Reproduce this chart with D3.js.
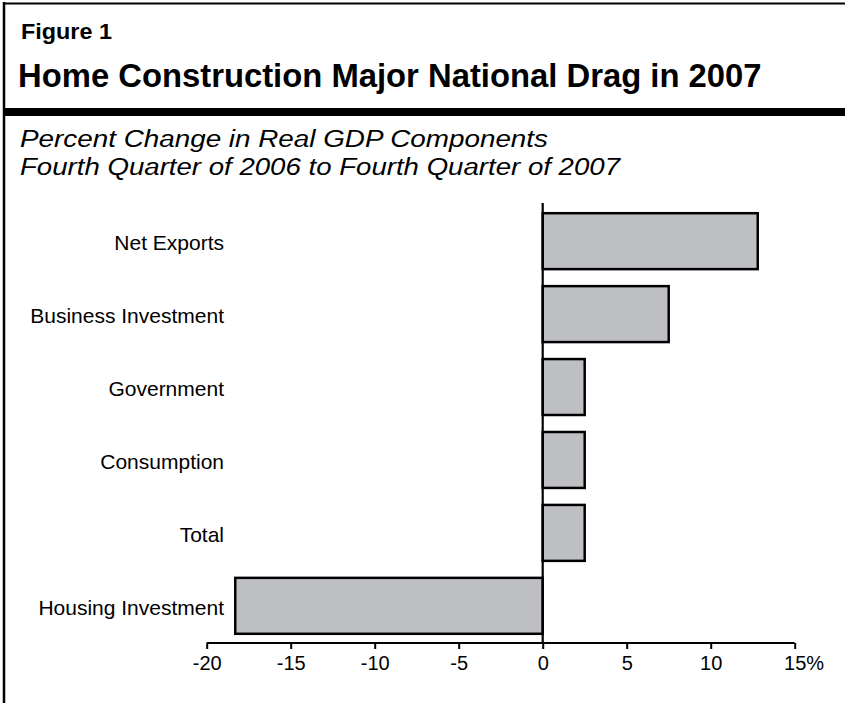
<!DOCTYPE html>
<html>
<head>
<meta charset="utf-8">
<script src="https://cdn.jsdelivr.net/npm/d3@7/dist/d3.min.js"></script>
<style>
  html, body { margin: 0; padding: 0; background: #fff; }
  svg { display: block; font-family: "Liberation Sans", Arial, Helvetica, sans-serif; }
</style>
</head>
<body>
<script>
// Components of real GDP, top to bottom
const categories = ["Net Exports", "Business Investment", "Government", "Consumption", "Total", "Housing Investment"];
// Percent change, Q4 2006 to Q4 2007
const values = [12.8, 7.5, 2.5, 2.5, 2.5, -18.3];
const tickValues = [-20, -15, -10, -5, 0, 5, 10, 15];

const figureLabel = "Figure 1";
const title = "Home Construction Major National Drag in 2007";
const subtitle = ["Percent Change in Real GDP Components", "Fourth Quarter of 2006 to Fourth Quarter of 2007"];

const W = 845, H = 703;
const svg = d3.select("body").append("svg").attr("width", W).attr("height", H);

// Frame: left rule, top rule and the heavy rule under the title
svg.append("line").attr("x1", 4).attr("x2", 4).attr("y1", 2).attr("y2", H)
  .attr("stroke", "#000").attr("stroke-width", 2.5);
svg.append("line").attr("x1", 3).attr("x2", W).attr("y1", 3.5).attr("y2", 3.5)
  .attr("stroke", "#000").attr("stroke-width", 2);
svg.append("rect").attr("x", 3).attr("y", 108).attr("width", W - 3).attr("height", 8).attr("fill", "#000");

svg.append("text").attr("x", 21).attr("y", 39)
  .attr("font-size", 21.5).attr("font-weight", "bold")
  .attr("textLength", 91).attr("lengthAdjust", "spacingAndGlyphs").text(figureLabel);
svg.append("text").attr("x", 18).attr("y", 87)
  .attr("font-size", 32.8).attr("font-weight", "bold").text(title);

// Subtitle set in a wide italic
const subWidths = [528, 600];
svg.selectAll("text.sub").data(subtitle).join("text").attr("class", "sub")
  .attr("x", 20).attr("y", (d, i) => 146.5 + i * 28)
  .attr("font-size", 23.5).attr("font-style", "italic")
  .attr("textLength", (d, i) => subWidths[i]).attr("lengthAdjust", "spacingAndGlyphs")
  .text(d => d);

// Scales
const x = d3.scaleLinear().domain([-20, 15]).range([206.7, 794.7]);
const y = d3.scaleBand().domain(categories).range([203, 644]).paddingInner(0.233).paddingOuter(0.14);

const axisY = 643;

// Bars
svg.append("g").selectAll("rect").data(values).join("rect")
  .attr("x", d => x(Math.min(0, d)))
  .attr("width", d => Math.abs(x(d) - x(0)))
  .attr("y", (d, i) => y(categories[i]))
  .attr("height", y.bandwidth())
  .attr("fill", "#bebfc3")
  .attr("stroke", "#000").attr("stroke-width", 2.5);

// Zero line
svg.append("line").attr("x1", x(0)).attr("x2", x(0)).attr("y1", 203).attr("y2", axisY)
  .attr("stroke", "#000").attr("stroke-width", 2.2);

// Category labels
svg.append("g").selectAll("text").data(categories).join("text")
  .attr("x", 224).attr("y", d => y(d) + y.bandwidth() / 2 + 9)
  .attr("text-anchor", "end").attr("font-size", 21).text(d => d);

// Bottom axis
const axis = d3.axisBottom(x).tickValues(tickValues).tickSize(6).tickPadding(7).tickFormat(d => String(d));
const gx = svg.append("g").attr("transform", `translate(0,${axisY})`).call(axis);
gx.select(".domain").attr("stroke", "#000").attr("stroke-width", 2.2)
  .attr("d", `M${x(-20)},0H${x(15)}`);
gx.selectAll(".tick line").attr("stroke", "#000").attr("stroke-width", 2);
gx.selectAll(".tick text").attr("font-size", 20).attr("fill", "#000")
  .attr("font-family", "Liberation Sans, Arial, sans-serif");
// Percent sign trails the last tick label without shifting its centre
gx.selectAll(".tick").filter(d => d === 15).each(function () {
  const t = d3.select(this).select("text");
  const w = t.node().getComputedTextLength();
  d3.select(this).append("text")
    .attr("x", w / 2).attr("y", t.attr("y")).attr("dy", t.attr("dy"))
    .attr("font-size", 20).attr("fill", "#000").attr("text-anchor", "start")
    .attr("font-family", "Liberation Sans, Arial, sans-serif")
    .text("%");
});
</script>
</body>
</html>
